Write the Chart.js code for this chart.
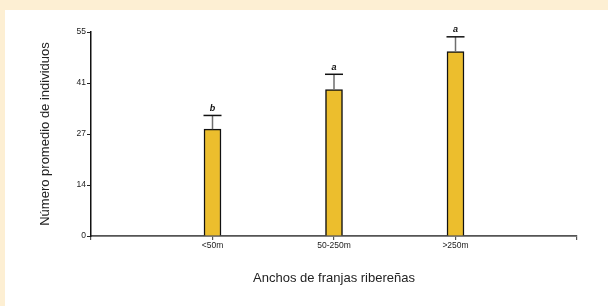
<!DOCTYPE html>
<html>
<head>
<meta charset="utf-8">
<script src="https://cdn.jsdelivr.net/npm/chart.js@4.4.1/dist/chart.umd.min.js"></script>
<style>
  html, body { margin: 0; padding: 0; background: #fdefd3; }
  #wrap { width: 608px; height: 306px; }
</style>
</head>
<body>
<div id="wrap"><canvas id="barChart" width="608" height="306"></canvas></div>
<script>
// datos
const categories = ['', '<50m', '50-250m', '>250m', ''];
const means = [null, 28.8, 39.5, 49.7, null];
const errorTops = [null, 32.5, 43.6, 53.7, null];
const letters = ['', 'b', 'a', 'a', ''];
const yTickValues = [0, 13.75, 27.5, 41.25, 55];
const yTickLabels = ['0', '14', '27', '41', '55'];

const FONT = "'Liberation Sans', Arial, sans-serif";

// fondo crema + panel blanco
const panelBg = {
  id: 'panelBg',
  beforeDraw(chart) {
    const ctx = chart.ctx;
    ctx.save();
    ctx.fillStyle = '#fdefd3';
    ctx.fillRect(0, 0, chart.width, chart.height);
    ctx.fillStyle = '#ffffff';
    ctx.fillRect(5, 10, chart.width - 5, chart.height - 10);
    ctx.restore();
  }
};

// barras de error y letras de significancia
const errorBars = {
  id: 'errorBars',
  afterDatasetsDraw(chart) {
    const ctx = chart.ctx;
    const x = chart.scales.x, y = chart.scales.y;
    ctx.save();
    errorTops.forEach(function(top, i) {
      if (top === null) return;
      const px = x.getPixelForValue(i);
      const pBar = y.getPixelForValue(means[i]);
      const pTop = y.getPixelForValue(top);
      ctx.strokeStyle = '#6e6e6e';
      ctx.lineWidth = 1.5;
      ctx.beginPath();
      ctx.moveTo(px, pBar);
      ctx.lineTo(px, pTop);
      ctx.stroke();
      ctx.strokeStyle = '#111';
      ctx.beginPath();
      ctx.moveTo(px - 9, pTop);
      ctx.lineTo(px + 9, pTop);
      ctx.stroke();
      ctx.fillStyle = '#111';
      ctx.font = "italic bold 9px 'Liberation Sans', sans-serif";
      ctx.textAlign = 'center';
      ctx.textBaseline = 'middle';
      ctx.fillText(letters[i], px, pTop - 7);
    });
    ctx.restore();
  }
};

const chart = new Chart(document.getElementById('barChart'), {
  type: 'bar',
  data: {
    labels: categories,
    datasets: [{
      data: means,
      backgroundColor: '#ecbe2d',
      borderColor: '#111',
      borderWidth: 1.5,
      barThickness: 17
    }]
  },
  options: {
    responsive: false,
    animation: false,
    layout: { padding: { left: 0, top: 32, right: 31, bottom: 0 } },
    plugins: { legend: { display: false }, tooltip: { enabled: false } },
    scales: {
      x: {
        offset: false,
        grid: { display: true, offset: false, drawOnChartArea: false, drawTicks: true, tickLength: 4, color: '#555', lineWidth: 1.2 },
        border: { display: true, color: '#555', width: 1.8 },
        ticks: { color: '#222', font: { family: FONT, size: 8.5 }, padding: 1, maxRotation: 0, autoSkip: false },
        title: { display: true, text: 'Anchos de franjas ribereñas', color: '#222', font: { family: FONT, size: 13 }, padding: { top: 0, bottom: 20 } },
        afterFit(scale) { scale.height = 70; }
      },
      y: {
        min: 0,
        max: 55,
        afterBuildTicks(scale) { scale.ticks = yTickValues.map(function(v) { return { value: v }; }); },
        grid: { display: true, drawOnChartArea: false, drawTicks: true, tickLength: 4, color: '#222', lineWidth: 1 },
        border: { display: true, color: '#111', width: 1.5 },
        ticks: {
          color: '#222',
          font: { family: FONT, size: 8.5 },
          padding: 1,
          callback: function(value, index) { return yTickLabels[index]; }
        },
        title: { display: true, text: 'Número promedio de individuos', color: '#222', font: { family: FONT, size: 13 }, padding: { top: 38, bottom: 0 } },
        afterFit(scale) { scale.width = 91; }
      }
    }
  },
  plugins: [panelBg, errorBars]
});
</script>
</body>
</html>
